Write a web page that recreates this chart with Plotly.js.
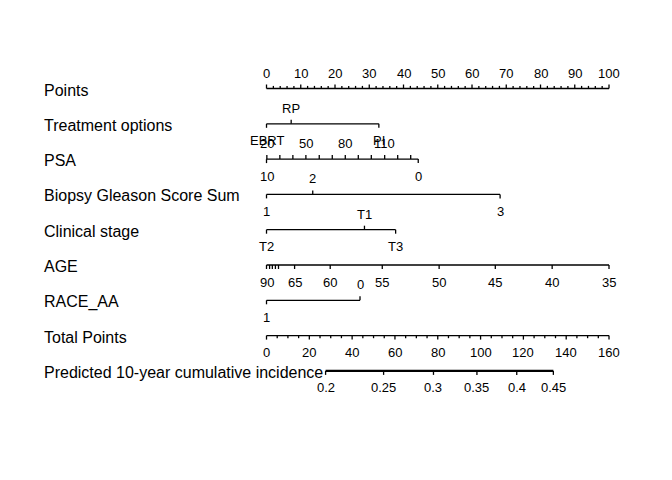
<!DOCTYPE html>
<html><head><meta charset="utf-8">
<script src="https://cdn.plot.ly/plotly-3.0.1.min.js"></script>
<style>html,body{margin:0;padding:0;background:#fff}#chart{width:672px;height:480px}</style>
</head><body><div id="chart"></div>
<script>
// ---- data ----
const rowLabels = ["Points", "Treatment options", "PSA", "Biopsy Gleason Score Sum",
  "Clinical stage", "AGE", "RACE_AA", "Total Points", "Predicted 10-year cumulative incidence"];

const pointsLabels = [0, 10, 20, 30, 40, 50, 60, 70, 80, 90, 100];

const treatLevels = ["EBRT", "RP", "PI"];
const treatPoints = [0, 7.2, 32.8];
const treatSide = ["below", "above", "below"];

const psaUpperValues = [20, 30, 40, 50, 60, 70, 80, 90, 100, 110, 120, 130];
const psaUpperPoints = [0.1, 3.9, 7.7, 11.5, 15.4, 19.2, 23.0, 26.8, 30.6, 34.5, 38.3, 42.1];
const psaUpperLabeled = [20, 50, 80, 110];
const psaLowerValues = [10, 0];
const psaLowerPoints = [0, 44.3];

const gleasonLevels = ["1", "2", "3"];
const gleasonPoints = [0, 13.5, 68.2];
const gleasonSide = ["below", "above", "below"];

const stageLevels = ["T2", "T1", "T3"];
const stagePoints = [0, 28.6, 37.7];
const stageSide = ["below", "above", "below"];

const ageValues = [90, 85, 80, 75, 70, 65, 60, 55, 50, 45, 40, 35];
const agePoints = [0, 0.9, 1.7, 2.6, 3.5, 8.2, 18.6, 33.8, 50.4, 66.8, 83.4, 100];
const ageLabeled = [90, 65, 60, 55, 50, 45, 40, 35];

const raceLevels = ["1", "0"];
const racePoints = [0, 27.3];
const raceSide = ["below", "above"];

const totalLabels = [0, 20, 40, 60, 80, 100, 120, 140, 160];
const totalMax = 160;

const predProbs = ["0.2", "0.25", "0.3", "0.35", "0.4", "0.45"];
const predTotals = [27.6, 54.7, 78.0, 98.3, 116.9, 134.0];

// ---- geometry helpers ----
const rowPx = 35.3;            // pixels between rows
const yRange = [2.507 - 480 / rowPx, 2.507];
const xRange = [-77.81, 118.39];
const pxY = v => v / rowPx;    // pixel length -> y data units
const rowY = i => -i;
const majorLen = pxY(4), minorLen = pxY(2.6);
const FONT = "Liberation Sans, Arial, Helvetica, sans-serif";

const segX = [], segY = [];
function seg(x0, y0, x1, y1) { segX.push(x0, x1, null); segY.push(y0, y1, null); }
const ann = [];
function lab(x, y, text, side) {
  ann.push({x: x, y: y, xref: "x", yref: "y", text: String(text), showarrow: false,
    xanchor: "center", yanchor: "middle", yshift: side === "above" ? 15.5 : -17,
    font: {family: FONT, size: 13, color: "#000"}});
}
function tick(x, y, side, len) {
  seg(x, y, x, side === "above" ? y + len : y - len);
}

// row labels
rowLabels.forEach((t, i) => ann.push({x: 42 / 672, xref: "paper", y: rowY(i), yref: "y",
  text: t, showarrow: false, xanchor: "left", yanchor: "middle", yshift: -1.5,
  font: {family: FONT, size: 16, color: "#000"}}));

// Points axis
{ const y = rowY(0);
  seg(0, y, 100, y);
  for (let v = 0; v <= 100; v += 2) tick(v, y, "above", v % 10 === 0 ? majorLen : minorLen);
  pointsLabels.forEach(v => lab(v, y, v, "above"));
}
// discrete variables
function discrete(row, levels, pts, sides) {
  const y = rowY(row);
  seg(Math.min(...pts), y, Math.max(...pts), y);
  levels.forEach((l, k) => { tick(pts[k], y, sides[k], majorLen); lab(pts[k], y, l, sides[k]); });
}
discrete(1, treatLevels, treatPoints, treatSide);
// PSA
{ const y = rowY(2);
  seg(Math.min(...psaLowerPoints, ...psaUpperPoints), y, Math.max(...psaLowerPoints, ...psaUpperPoints), y);
  psaUpperValues.forEach((v, k) => {
    tick(psaUpperPoints[k], y, "above", majorLen);
    if (psaUpperLabeled.includes(v)) lab(psaUpperPoints[k], y, v, "above");
  });
  psaLowerValues.forEach((v, k) => { tick(psaLowerPoints[k], y, "below", majorLen); lab(psaLowerPoints[k], y, v, "below"); });
}
discrete(3, gleasonLevels, gleasonPoints, gleasonSide);
discrete(4, stageLevels, stagePoints, stageSide);
// AGE
{ const y = rowY(5);
  seg(Math.min(...agePoints), y, Math.max(...agePoints), y);
  ageValues.forEach((v, k) => {
    tick(agePoints[k], y, "below", majorLen);
    if (ageLabeled.includes(v)) lab(agePoints[k], y, v, "below");
  });
}
discrete(6, raceLevels, racePoints, raceSide);
// Total points
{ const y = rowY(7);
  const sx = v => v * 100 / totalMax;
  seg(0, y, 100, y);
  for (let v = 0; v <= totalMax; v += 5) tick(sx(v), y, "below", v % 20 === 0 ? majorLen : minorLen);
  totalLabels.forEach(v => lab(sx(v), y, v, "below"));
}
// Predicted
const predX = [], predY = [];
{ const y = rowY(8);
  const sx = v => v * 100 / totalMax;
  predX.push(sx(predTotals[0]), sx(predTotals[predTotals.length - 1]));
  predY.push(y, y);
  predTotals.forEach((t, k) => { tick(sx(t), y, "below", majorLen); lab(sx(t), y, predProbs[k], "below"); });
}

const traces = [
  {x: segX, y: segY, mode: "lines", line: {color: "#000", width: 1.3}, hoverinfo: "skip", showlegend: false},
  {x: predX, y: predY, mode: "lines", line: {color: "#000", width: 2.4}, hoverinfo: "skip", showlegend: false}
];
const layout = {
  width: 672, height: 480, margin: {l: 0, r: 0, t: 0, b: 0},
  paper_bgcolor: "#fff", plot_bgcolor: "#fff", showlegend: false,
  xaxis: {range: xRange, visible: false, fixedrange: true},
  yaxis: {range: yRange, visible: false, fixedrange: true},
  annotations: ann
};
Plotly.newPlot("chart", traces, layout, {staticPlot: true, displayModeBar: false});
</script></body></html>
